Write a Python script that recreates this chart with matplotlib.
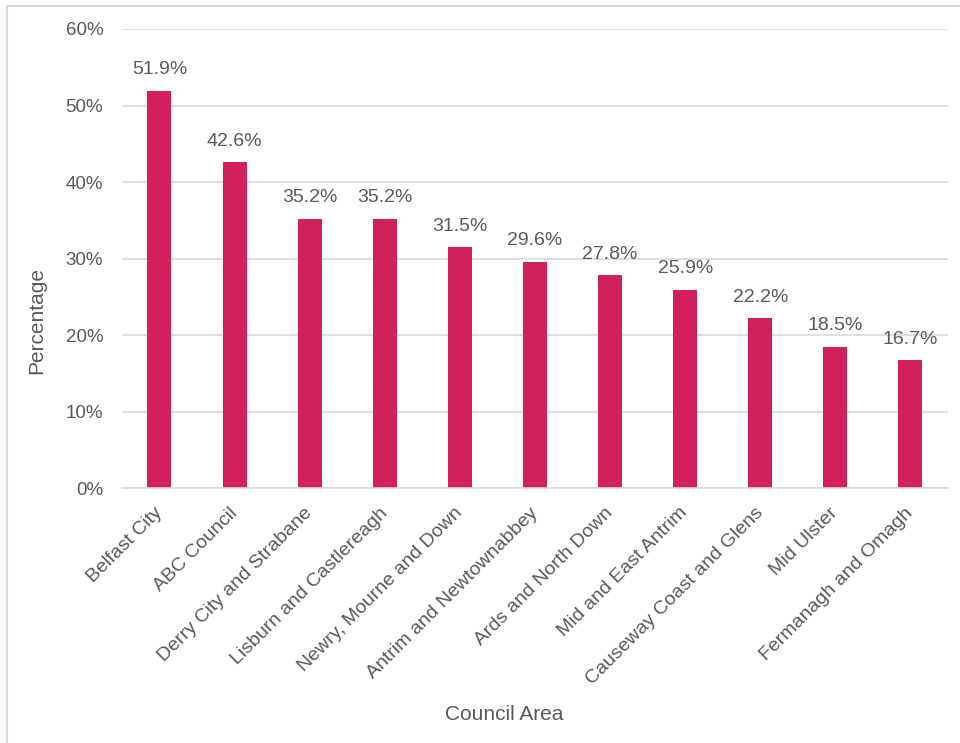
import matplotlib.pyplot as plt
from matplotlib.patches import Rectangle
from matplotlib.ticker import PercentFormatter

plt.rcParams["font.family"] = ["Liberation Sans", "DejaVu Sans"]

councils = [
    "Belfast City",
    "ABC Council",
    "Derry City and Strabane",
    "Lisburn and Castlereagh",
    "Newry, Mourne and Down",
    "Antrim and Newtownabbey",
    "Ards and North Down",
    "Mid and East Antrim",
    "Causeway Coast and Glens",
    "Mid Ulster",
    "Fermanagh and Omagh",
]
percentages = [51.9, 42.6, 35.2, 35.2, 31.5, 29.6, 27.8, 25.9, 22.2, 18.5, 16.7]

BAR_COLOR = "#D21F5E"
TEXT_COLOR = "#595959"
GRID_COLOR = "#D9D9D9"

fig = plt.figure(figsize=(9.6, 7.43), dpi=100)
ax = fig.add_axes([0.127, 0.343, 0.8605, 0.618])

# outer chart frame
fig.patches.append(
    Rectangle(
        (7 / 960, -0.1), 1.2, 1 - 6 / 743 + 0.1,
        transform=fig.transFigure,
        fill=False,
        edgecolor=GRID_COLOR,
        linewidth=1.5,
    )
)

x = range(len(councils))
bars = ax.bar(x, percentages, width=0.32, color=BAR_COLOR, zorder=2)

for rect, val in zip(bars, percentages):
    ax.annotate(
        f"{val:.1f}%",
        (rect.get_x() + rect.get_width() / 2, val),
        xytext=(0, 9),
        textcoords="offset points",
        ha="center",
        va="bottom",
        fontsize=14,
        color=TEXT_COLOR,
    )

ax.set_xlim(-0.5, len(councils) - 0.5)
ax.set_ylim(0, 60)
ax.set_yticks(range(0, 61, 10))
ax.yaxis.set_major_formatter(PercentFormatter(decimals=0))
ax.grid(axis="y", color=GRID_COLOR, linewidth=1.2, zorder=0)

ax.set_xticks(list(x))
ax.set_xticklabels(
    councils, rotation=45, ha="right", va="center", rotation_mode="anchor"
)
ax.tick_params(axis="both", length=0, labelcolor=TEXT_COLOR)
ax.tick_params(axis="y", pad=13.5, labelsize=13.5)
ax.tick_params(axis="x", pad=16, labelsize=14)

for side in ["top", "right", "left"]:
    ax.spines[side].set_visible(False)
ax.spines["bottom"].set_color(GRID_COLOR)
ax.spines["bottom"].set_linewidth(1.2)

fig.text(504 / 960, 1 - 714 / 743, "Council Area",
         ha="center", va="center", fontsize=15, color=TEXT_COLOR)
fig.text(37 / 960, 1 - 320 / 743, "Percentage", rotation=90,
         ha="center", va="center", fontsize=15, color=TEXT_COLOR)

fig.savefig("out.png", dpi=100)
